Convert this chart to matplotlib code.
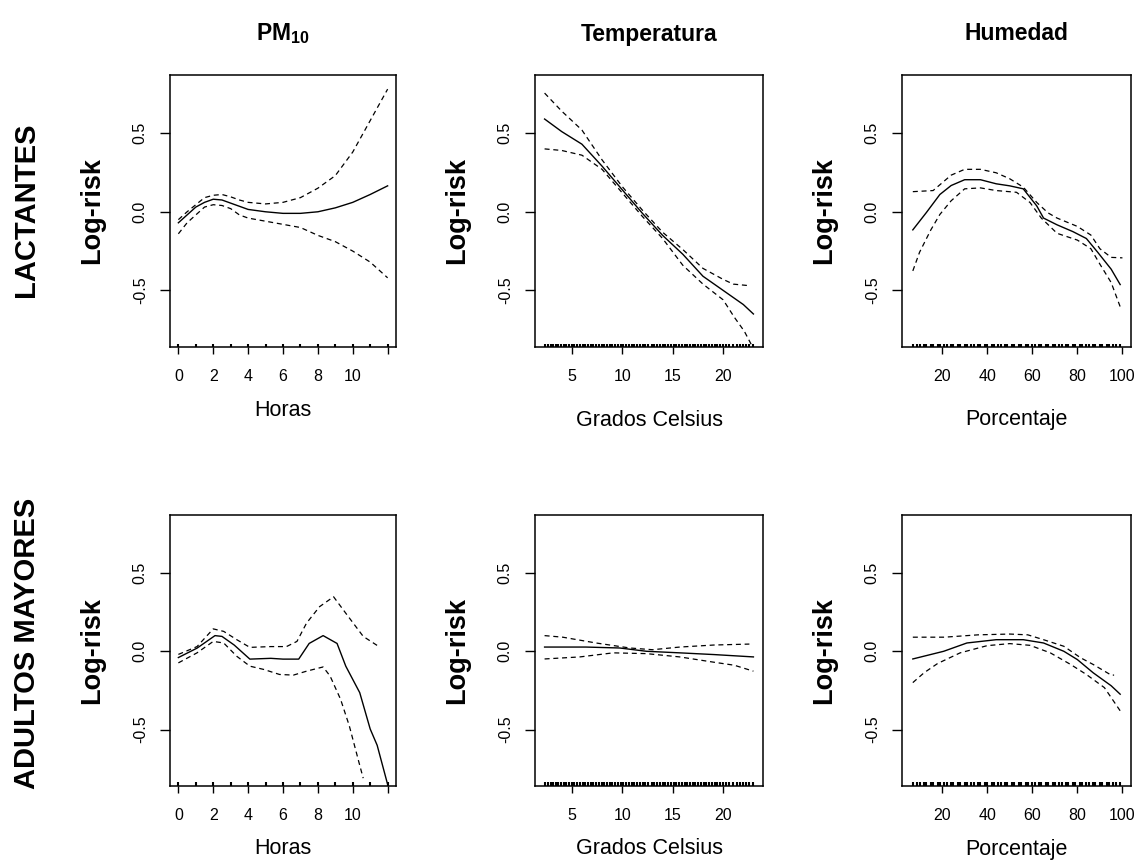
import matplotlib
matplotlib.use("Agg")
import matplotlib.pyplot as plt

plt.rcParams['font.family'] = ['Liberation Sans', 'DejaVu Sans']
plt.rcParams['mathtext.fontset'] = 'custom'
plt.rcParams['mathtext.bf'] = 'Liberation Sans:bold'
plt.rcParams['mathtext.rm'] = 'Liberation Sans:bold'

# encabezados
col_titles = [r'$\mathbf{PM}_{\mathbf{10}}$', 'Temperatura', 'Humedad']
row_titles = ['LACTANTES', 'ADULTOS MAYORES']
x_labels = ['Horas', 'Grados Celsius', 'Porcentaje']

# --- Lactantes, PM10 ---
lac_pm_x = [0, 0.5, 1, 1.5, 2, 2.5, 3, 3.5, 4, 5, 6, 7, 8, 9, 10, 11, 12]
lac_pm_fit = [-0.07, -0.02, 0.03, 0.06, 0.08, 0.075, 0.055, 0.035, 0.015, 0.0, -0.01, -0.01, 0.0, 0.025, 0.06, 0.11, 0.165]
lac_pm_up = [-0.05, 0.0, 0.045, 0.09, 0.105, 0.11, 0.095, 0.075, 0.06, 0.05, 0.06, 0.09, 0.15, 0.23, 0.38, 0.58, 0.78]
lac_pm_lo = [-0.14, -0.07, -0.02, 0.03, 0.045, 0.04, 0.02, -0.02, -0.04, -0.06, -0.08, -0.10, -0.15, -0.19, -0.25, -0.32, -0.42]

# --- Lactantes, temperatura ---
lac_t_x = [2.3, 4, 6, 8, 10, 12, 14, 16, 18, 20, 22, 23]
lac_t_fit = [0.59, 0.51, 0.43, 0.29, 0.14, -0.01, -0.15, -0.27, -0.41, -0.50, -0.59, -0.65]
lac_t_up_x = [2.3, 4, 6, 8, 10, 12, 14, 16, 18, 20, 21, 22.6]
lac_t_up = [0.755, 0.64, 0.52, 0.33, 0.16, 0.01, -0.13, -0.24, -0.36, -0.43, -0.46, -0.47]
lac_t_lo_x = [2.3, 4, 6, 8, 10, 12, 14, 16, 18, 20, 21.1, 22.1, 23]
lac_t_lo = [0.40, 0.39, 0.36, 0.27, 0.12, -0.03, -0.17, -0.34, -0.46, -0.56, -0.67, -0.76, -0.87]

# --- Lactantes, humedad ---
lac_h_x = [7, 13, 19, 24, 30, 37, 44, 50, 56, 62, 65, 71, 78, 84, 89, 95, 99]
lac_h_fit = [-0.115, -0.005, 0.11, 0.167, 0.204, 0.204, 0.178, 0.165, 0.146, 0.037, -0.04, -0.083, -0.126, -0.17, -0.257, -0.365, -0.463]
lac_h_up_x = [7, 16, 24, 30, 37, 44, 50, 56, 62, 67, 71, 80, 86, 90, 95, 100]
lac_h_up = [0.128, 0.135, 0.233, 0.27, 0.27, 0.248, 0.21, 0.157, 0.059, -0.007, -0.04, -0.093, -0.148, -0.235, -0.29, -0.293]
lac_h_lo_x = [7, 10, 15, 19, 24, 30, 37, 44, 53, 59, 64, 71, 80, 86, 90, 95, 99]
lac_h_lo = [-0.376, -0.257, -0.115, -0.017, 0.07, 0.146, 0.152, 0.135, 0.124, 0.059, -0.04, -0.137, -0.18, -0.235, -0.333, -0.45, -0.604]

# --- Adultos mayores, PM10 ---
adu_pm_x = [0, 1.07, 2.1, 2.5, 3.2, 4.1, 5.3, 6, 6.9, 7.5, 8.3, 9.1, 9.6, 10.4, 11, 11.4, 12]
adu_pm_fit = [-0.04, 0.02, 0.10, 0.095, 0.04, -0.05, -0.045, -0.05, -0.05, 0.05, 0.10, 0.05, -0.095, -0.264, -0.496, -0.6, -0.85]
adu_pm_up_x = [0, 1.07, 2.0, 2.6, 3.35, 4.1, 5.3, 6.2, 6.8, 7.35, 8.1, 8.9, 9.6, 10.6, 11.5]
adu_pm_up = [-0.02, 0.03, 0.143, 0.127, 0.074, 0.025, 0.03, 0.03, 0.063, 0.18, 0.285, 0.348, 0.243, 0.095, 0.03]
adu_pm_lo_x = [0, 1.07, 2.0, 2.6, 3.35, 4.1, 4.9, 5.8, 6.6, 7.35, 8.3, 8.7, 9.3, 9.8, 10.4, 10.6]
adu_pm_lo = [-0.074, -0.01, 0.063, 0.053, -0.032, -0.095, -0.116, -0.148, -0.152, -0.127, -0.10, -0.158, -0.306, -0.475, -0.728, -0.81]

# --- Adultos mayores, temperatura ---
adu_t_x = [2.3, 6.4, 9.75, 12.4, 15.7, 19.1, 23]
adu_t_fit = [0.027, 0.027, 0.021, 0.0, -0.01, -0.021, -0.036]
adu_t_up_x = [2.3, 4.1, 7.4, 10.75, 13, 15.7, 19.1, 22.6]
adu_t_up = [0.10, 0.09, 0.053, 0.021, 0.01, 0.027, 0.04, 0.046]
adu_t_lo_x = [2.3, 5.8, 9.1, 12.4, 15.7, 19.1, 21.1, 23]
adu_t_lo = [-0.049, -0.036, -0.01, -0.015, -0.036, -0.07, -0.089, -0.127]

# --- Adultos mayores, humedad ---
adu_h_x = [7, 20.7, 31, 44, 56, 65, 74, 80, 87, 95, 99]
adu_h_fit = [-0.049, 0.0, 0.053, 0.074, 0.074, 0.053, 0.0, -0.053, -0.137, -0.22, -0.274]
adu_h_up_x = [7, 21, 36, 50, 58, 65, 74, 81.5, 87, 95, 96.3]
adu_h_up = [0.09, 0.09, 0.105, 0.11, 0.105, 0.074, 0.032, -0.042, -0.084, -0.152, -0.152]
adu_h_lo_x = [7, 12, 18, 28, 40, 50, 59, 68, 77, 84, 92, 99]
adu_h_lo = [-0.20, -0.137, -0.078, -0.01, 0.036, 0.049, 0.038, -0.01, -0.084, -0.148, -0.232, -0.38]

# rug (observaciones)
rug_pm = [0, 1, 2, 3, 4, 5, 6, 7, 8, 9, 10, 11, 12]
rug_temp = [2.3, 2.6, 2.9, 3.1, 3.4, 3.6, 3.9, 4.2, 4.4, 4.7, 5.0, 5.2, 5.5, 5.8, 6.1,
            6.3, 6.6, 6.9, 7.1, 7.4, 7.7, 8.0, 8.2, 8.5, 8.8, 9.0, 9.3, 9.6, 9.9, 10.1,
            10.4, 10.7, 11.0, 11.2, 11.5, 11.8, 12.1, 12.3, 12.6, 12.9, 13.1, 13.4, 13.7,
            14.0, 14.2, 14.5, 14.8, 15.1, 15.3, 15.6, 15.9, 16.2, 16.4, 16.7, 17.0, 17.2,
            17.5, 17.8, 18.1, 18.3, 18.6, 18.9, 19.2, 19.4, 19.7, 20.0, 20.3, 20.6, 21.0,
            21.4, 21.7, 22.0, 22.3, 22.6, 23.0]
rug_hum = [7, 9, 10, 12, 13, 15, 16, 18, 19, 21, 22, 24, 25, 27, 28, 30, 31, 33, 34, 36,
           37, 39, 40, 42, 43, 45, 46, 48, 49, 51, 52, 54, 55, 57, 58, 60, 61, 63, 64, 66,
           67, 69, 70, 72, 73, 75, 76, 78, 79, 81, 82, 84, 85, 87, 88, 90, 91, 93, 94, 96,
           97, 99]

panels = [
    [(lac_pm_x, lac_pm_fit, lac_pm_x, lac_pm_up, lac_pm_x, lac_pm_lo, rug_pm),
     (lac_t_x, lac_t_fit, lac_t_up_x, lac_t_up, lac_t_lo_x, lac_t_lo, rug_temp),
     (lac_h_x, lac_h_fit, lac_h_up_x, lac_h_up, lac_h_lo_x, lac_h_lo, rug_hum)],
    [(adu_pm_x, adu_pm_fit, adu_pm_up_x, adu_pm_up, adu_pm_lo_x, adu_pm_lo, rug_pm),
     (adu_t_x, adu_t_fit, adu_t_up_x, adu_t_up, adu_t_lo_x, adu_t_lo, rug_temp),
     (adu_h_x, adu_h_fit, adu_h_up_x, adu_h_up, adu_h_lo_x, adu_h_lo, rug_hum)],
]

xlims = [(-0.48, 12.48), (1.35, 23.95), (2.2, 103.8)]
xticks = [[0, 2, 4, 6, 8, 10, 12], [5, 10, 15, 20], [20, 40, 60, 80, 100]]
xticklabels = [['0', '2', '4', '6', '8', '10', ''], ['5', '10', '15', '20'],
               ['20', '40', '60', '80', '100']]

W, H = 1138, 866
fig = plt.figure(figsize=(W / 100, H / 100), dpi=100)

col_left = [170, 535, 902]
col_w = [226, 228, 229]
row_top = [75, 515]
row_h = [272, 271]
xlab_off = [[64, 73, 72], [62, 62, 64]]

dash = (0, (4, 3))

for r in range(2):
    for c in range(3):
        ax = fig.add_axes([col_left[c] / W, 1 - (row_top[r] + row_h[r]) / H,
                           col_w[c] / W, row_h[r] / H])
        fx, fy, ux, uy, lx, ly, rug = panels[r][c]
        ax.plot(fx, fy, color='black', lw=1.0)
        ax.plot(ux, uy, color='black', lw=0.9, linestyle=dash)
        ax.plot(lx, ly, color='black', lw=0.9, linestyle=dash)
        rug_h = 0.011 if r == 0 else 0.015
        ax.vlines(rug, 0, rug_h, transform=ax.get_xaxis_transform(),
                  color='black', lw=1.5)

        ax.set_xlim(xlims[c])
        ax.set_ylim(-0.86, 0.87)
        ax.set_xticks(xticks[c])
        ax.set_xticklabels(xticklabels[c], fontsize=11.5)
        ax.set_yticks([-0.5, 0.0, 0.5])
        ax.set_yticklabels(['-0.5', '0.0', '0.5'], fontsize=11.5,
                           rotation=90, va='center')
        ax.tick_params(axis='x', length=5, width=1.0, pad=11)
        ax.tick_params(axis='y', length=7, width=1.0, pad=9)
        for s in ax.spines.values():
            s.set_linewidth(1.1)

        ax.text(-78 / col_w[c], 0.5, 'Log-risk', transform=ax.transAxes,
                rotation=90, ha='center', va='center', fontsize=19.5,
                fontweight='bold')
        ax.text(0.5, -xlab_off[r][c] / row_h[r], x_labels[c],
                transform=ax.transAxes, ha='center', va='center', fontsize=15.5)

        if r == 0:
            ax.text(0.5, 1 + 41 / row_h[r], col_titles[c], transform=ax.transAxes,
                    ha='center', va='center', fontsize=16.5, fontweight='bold')

fig.text(26 / W, 1 - 210 / H, row_titles[0], rotation=90, ha='center',
         va='center', fontsize=21, fontweight='bold')
fig.text(27 / W, 1 - 643 / H, row_titles[1], rotation=90, ha='center',
         va='center', fontsize=21, fontweight='bold')

fig.savefig('out.png', dpi=100)
